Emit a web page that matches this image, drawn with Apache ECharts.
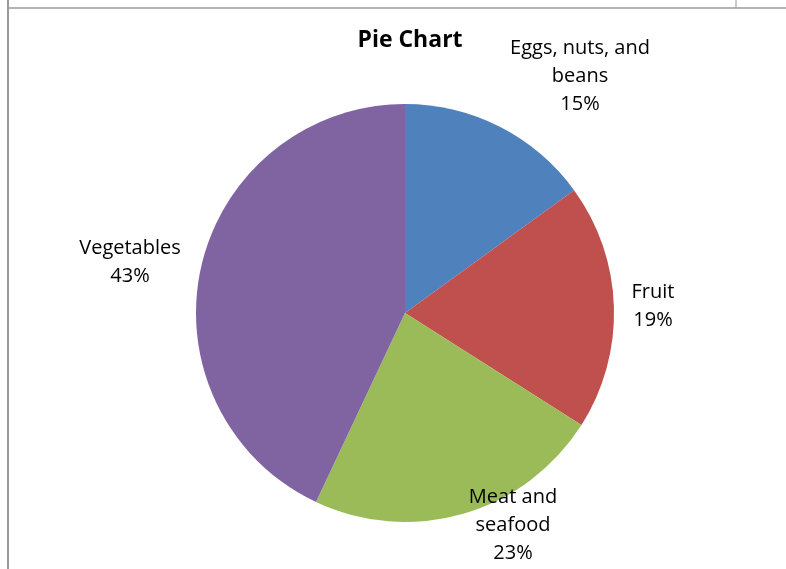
<!DOCTYPE html>
<html>
<head>
<meta charset="utf-8">
<script src="https://cdn.jsdelivr.net/npm/echarts@6/dist/echarts.min.js"></script>
<style>
  html, body { margin: 0; padding: 0; background: #fff; }
  #main { width: 786px; height: 569px; }
</style>
</head>
<body>
<div id="main"></div>
<script>
// data
var categories = ['Eggs, nuts, and\nbeans', 'Fruit', 'Meat and\nseafood', 'Vegetables'];
var values = [15, 19, 23, 43];
var colors = ['#4F81BD', '#C0504D', '#9BBB59', '#8064A2'];

// where each data label sits (label centre)
var labelPos = [[580, 76], [653, 306], [513, 525], [130, 262]];

var chart = echarts.init(document.getElementById('main'));

var option = {
  backgroundColor: '#fff',
  animation: false,
  title: {
    text: 'Pie Chart',
    left: 405,
    top: 24,
    textAlign: 'center',
    textStyle: { fontFamily: 'Open Sans', fontSize: 23, fontWeight: 'bold', color: '#000' }
  },
  // spreadsheet cell borders behind the chart
  graphic: [
    { type: 'line', shape: { x1: 8, y1: 8, x2: 786, y2: 8 }, style: { stroke: '#9a9a9a', lineWidth: 1.5 } },
    { type: 'line', shape: { x1: 8, y1: 0, x2: 8, y2: 569 }, style: { stroke: '#9a9a9a', lineWidth: 2 } },
    { type: 'line', shape: { x1: 736, y1: 0, x2: 736, y2: 8 }, style: { stroke: '#9a9a9a', lineWidth: 1 } }
  ],
  series: [{
    type: 'pie',
    center: [405, 313],
    radius: 209,
    startAngle: 90,
    clockwise: true,
    color: colors,
    itemStyle: { borderWidth: 0 },
    label: {
      show: true,
      position: 'outside',
      formatter: function (p) { return p.name + '\n' + p.value + '%'; },
      fontFamily: 'Open Sans',
      fontSize: 20,
      lineHeight: 28,
      color: '#000',
      align: 'center'
    },
    labelLine: { show: false },
    labelLayout: function (params) {
      var p = labelPos[params.dataIndex];
      return { x: p[0], y: p[1], align: 'center', verticalAlign: 'middle' };
    },
    emphasis: { disabled: true },
    data: categories.map(function (c, i) { return { name: c, value: values[i] }; })
  }]
};

chart.setOption(option);
</script>
</body>
</html>
